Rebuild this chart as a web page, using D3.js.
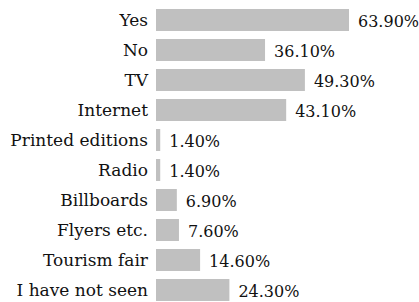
<!DOCTYPE html>
<html>
<head>
<meta charset="utf-8">
<script src="https://cdn.jsdelivr.net/npm/d3@7"></script>
<style>
  body { margin: 0; background: #fff; }
</style>
</head>
<body>
<div id="chart"></div>
<script>
var categories = ["Yes", "No", "TV", "Internet", "Printed editions", "Radio",
                  "Billboards", "Flyers etc.", "Tourism fair", "I have not seen"];
var values = [63.9, 36.1, 49.3, 43.1, 1.4, 1.4, 6.9, 7.6, 14.6, 24.3];

drawBars("chart", 419, 302);

function drawBars(container_id, width, height) {
	var data = categories.map(function (c, i) {
		return {name: c, value: values[i]};
	});

	var svg = d3.select("#" + container_id)
				.append("svg")
				.attr("width", width)
				.attr("height", height)
				.style("font-family", "'DejaVu Serif', serif");

	var x = d3.scaleLinear()
				.domain([0, 63.9])
				.range([156, 349]);

	var y = d3.scaleBand()
				.domain(categories)
				.range([5, 305])
				.paddingInner(8 / 30)
				.paddingOuter(4 / 30);

	var fmt = d3.format(".2f");

	var row = svg.selectAll("g.row")
				.data(data)
				.enter()
				.append("g")
				.attr("class", "row");

	row.append("rect")
		.attr("x", x(0))
		.attr("y", function (d) { return y(d.name); })
		.attr("width", function (d) { return x(d.value) - x(0); })
		.attr("height", y.bandwidth())
		.attr("fill", "#c0c0c0");

	// category labels
	row.append("text")
		.attr("x", 148)
		.attr("y", function (d) { return y(d.name) + y.bandwidth() / 2; })
		.attr("dy", "0.36em")
		.attr("text-anchor", "end")
		.attr("font-size", "17px")
		.attr("fill", "#111")
		.text(function (d) { return d.name; });

	// value labels
	row.append("text")
		.attr("x", function (d) { return x(d.value) + 9; })
		.attr("y", function (d) { return y(d.name) + y.bandwidth() / 2; })
		.attr("dy", "0.42em")
		.attr("font-size", "16px")
		.attr("fill", "#111")
		.text(function (d) { return fmt(d.value) + "%"; });
}
</script>
</body>
</html>
